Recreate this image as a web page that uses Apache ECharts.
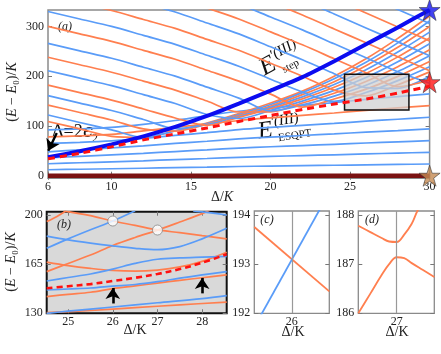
<!DOCTYPE html>
<html><head><meta charset="utf-8">
<script src="https://cdn.jsdelivr.net/npm/echarts@6/dist/echarts.min.js"></script>
<style>html,body{margin:0;padding:0;background:#fff}#c{width:441px;height:354px}</style>
</head><body><div id="c"></div>
<script>
const FONT = "'Liberation Serif','DejaVu Serif',serif";
const ORANGE = '#ff7f4f', BLUE = '#5a9cf8';

// ---------- panel (a) ----------
const deltaA = [6,8,10,12,14,16,18,20,22,24,26,28,30];
const stepLine  = [37,49,63,79,98,120,145,171,198,230,264,298,333];
const esqptLine = [34,45,58,72,84,96,109,121,133,144,154,166,180];
const low1 = [12,13,14,15,16.2,17.3,18.5,19.4,20.2,21,21.9,22.7,23.5];
const low2 = [24,26,28,30,32.4,34.6,37,38.8,40.4,42,43.8,45.4,47];
const low3 = [36,39,42,45,48.6,51.9,55.5,58.2,60.6,63,65.7,68.1,70.5];
const low4 = [48,52,56,60,64.8,69.2,74,77.6,80.8,84,87.6,90.8,94];
const low5 = [65,67,70,75,81,86.5,92.5,97,101,105,109.5,113.5,117.5];
const low6 = [78,80,83,90,97,104,111,116.4,121.2,126,131.4,136.2,141];
const low7 = [92,94,97,103,111,121,129.5,135.8,141.4,147,153.3,158.9,164.5];
const lev1  = [109,94,79,77,90,106,125,146,170,200,235,276,321];
const lev2  = [122,107,92,77,90,105,123,143,167,195,228,267,311];
const lev3  = [142,127,112,94,89.5,103.5,121,140,163,189,221,258,300];
const lev4  = [161,146,131,113,95,102.4,119,137.4,158.5,183.4,213,248.5,288.6];
const lev5  = [182,167,152,134,116,101.3,117.2,134.5,154.5,177.7,205.5,238.8,276.8];
const lev6  = [211,196,181,163,145,123,115,131.2,150,171.4,197.3,228.8,265];
const lev7  = [238,223,208,190,172,150,128,128.4,146,165.7,189.5,219,253];
const lev8  = [266,251,236,218,200,178,156,130,142.2,160,181.8,209.4,241.2];
const lev9  = [300,285,270,252,234,212,190,164,138,154.2,173.9,199.6,229.4];
const lev10 = [330,315,300,282,264,242,220,194,168,149.2,167.1,191.1,219];
const lev11 = [362,347,332,314,296,274,252,226,200,172,160.5,182.7,208.7];
const lev12 = [395,380,365,347,329,307,285,259,233,205,177,175.5,199.8];
const lev13 = [425,410,395,377,359,337,315,289,263,235,207,179,192.4];
const lev14 = [455,440,425,407,389,367,345,319,293,265,237,209,186];
const lev15 = [485,470,455,437,419,397,375,349,323,295,267,239,211];
const lev16 = [515,500,485,467,449,427,405,379,353,325,297,269,241];
const lev17 = [545,530,515,497,479,457,435,409,383,355,327,299,271];
const lev18 = [580,565,550,532,514,492,470,444,418,390,362,334,306];
const lev19 = [612,597,582,564,546,524,502,476,450,422,394,366,338];
const xTicksA = [6,10,15,20,25,30], yTicksA = [0,100,200,300];
const boxA = [[24.65,132],[28.7,204]];
const starStep = [30,333], starEsqpt = [30,188], starGround = [30,0];
const arrowA = [[6.55,86],[6.02,50]];

// ---------- panel (b) ----------
const bOrangeA = [[24.9,203],[25.5,199.5],[26,195.7],[26.5,192.6],[27,189.4],[27.5,187.4],[28,185.3],[28.55,183]];
const bOrangeB = [[24.52,159.7],[25,165.5],[25.5,171.5],[26,178.3],[26.5,184],[27,189.2],[27.5,195],[28,201],[28.2,204]];
const bOrangeE = [[24.52,195.3],[24.75,199],[24.96,203]];
const bOrangeC = [[24.52,166.5],[25,164],[25.5,162],[26,160.5],[26.5,160],[27,160.8],[27.5,163],[28,167],[28.55,173.5]];
const bOrangeF = [[24.52,141.9],[25,143.5],[25.5,145],[26,147.6],[26.5,149.5],[27,151.5],[27.5,153.5],[28,155.3],[28.55,157.3]];
const bOrangeG = [[24.52,130.5],[25.5,132],[26.5,134],[27.5,136],[28.55,138]];
const bBlue1 = [[24.52,176.3],[25,183],[25.5,189.5],[26,195.7],[26.5,203]];
const bBlue2 = [[24.52,185],[25,182.3],[25.5,180],[26,178],[26.5,176.3],[27,175.3],[27.5,177.5],[28,183],[28.55,190.5]];
const bBlue3 = [[24.52,153],[25,155.5],[25.5,158],[26,161.5],[26.5,165.5],[27,168.5],[27.5,169.5],[28,170],[28.55,170.5]];
const bBlue4 = [[27.8,203],[28.2,201.5],[28.55,200]];
const bBlue5 = [[24.52,146.6],[25,147.3],[25.5,148],[26,149.3],[26.5,150.5],[27,152.5],[27.5,155],[28,157.3],[28.55,159.7]];
const bBlue6 = [[24.52,130],[25,131.5],[26,134.5],[27,137.5],[28,140.5],[28.55,142.6]];
const bEsqpt = [[24.52,147.8],[25,149.3],[25.5,150.8],[26,153],[26.5,155.3],[27,158],[27.5,161.5],[28,166],[28.55,172]];
const bCircles = [[26,195.7],[27,189.3]];
const bArrows = [[[26,137],[26,148]],[[28,144.2],[28,155.2]]];
const xTicksB = [25,26,27,28], yTicksB = [130,165,200];

// ---------- panel (c) ----------
const cBlue = [[25.9,191.72],[26.1,194.46]];
const cOrange = [[25.9,193.755],[26.1,192.445]];
const xTicksC = [26], yTicksC = [192,193,194];

// ---------- panel (d) ----------
const dUpper = [[26.898,187.78],[26.93,187.65],[26.96,187.53],[26.98,187.46],[27.0,187.45],[27.02,187.6],[27.04,187.82],[27.055,188.08],[27.065,188.2]];
const dLower = [[26.898,186.0],[26.93,186.4],[26.96,186.78],[26.98,187.0],[27.0,187.14],[27.02,187.12],[27.04,187.02],[27.07,186.88],[27.1,186.74]];
const xTicksD = [27], yTicksD = [186,187,188];

const STAR = 'path://M50,2 L61.8,36.2 L97.6,36.2 L68.6,57.4 L79.4,91.6 L50,70.6 L20.6,91.6 L31.4,57.4 L2.4,36.2 L38.2,36.2 Z';

function zip(xs, ys){ return xs.map((x,i)=>[x, ys[i]]); }

function axisX(grid, min, max, ticks, pos, showLabel){
  return {type:'value', gridIndex:grid, min, max, position:pos,
    axisLine:{show:false}, splitLine:{show:false},
    axisTick:{inside:true, length:4, customValues:ticks, lineStyle:{color:'#777', width:1}},
    axisLabel:{show:showLabel, customValues:ticks, fontFamily:FONT, fontSize:12, color:'#222', margin:3}};
}
function axisY(grid, min, max, ticks, pos, showLabel){
  return {type:'value', gridIndex:grid, min, max, position:pos,
    axisLine:{show:false}, splitLine:{show:false},
    axisTick:{inside:true, length:4, customValues:ticks, lineStyle:{color:'#777', width:1}},
    axisLabel:{show:showLabel, customValues:ticks, fontFamily:FONT, fontSize:12, color:'#222', margin:4}};
}

const series = [];
function addA(ys, color, width, z, extra){
  series.push(Object.assign({type:'line', xAxisIndex:0, yAxisIndex:0, data:zip(deltaA, ys), smooth:0.3,
    symbol:'none', silent:true, z:z, lineStyle:{color, width}}, extra||{}));
}
[low1,low2,low3,low4,low5,low7].forEach(y=>addA(y, BLUE, 1.7, 2));
addA(low6, ORANGE, 1.7, 2);
[lev1,lev2,lev3,lev4,lev5,lev6,lev7,lev8,lev9,lev10,lev11,lev12,lev13,lev14,lev15,lev16,lev17,lev18,lev19]
  .forEach((y,i)=>addA(y, i%2===0 ? ORANGE : BLUE, 1.7, 2));
// gray zoom box drawn over the levels
series.push({type:'custom', xAxisIndex:0, yAxisIndex:0, data:[0], silent:true, z:3, clip:false,
  renderItem:(params, api)=>{
    const p0 = api.coord([boxA[0][0], boxA[1][1]]);
    const p1 = api.coord([boxA[1][0], boxA[0][1]]);
    return {type:'rect', shape:{x:p0[0], y:p0[1], width:p1[0]-p0[0], height:p1[1]-p0[1]},
      style:{fill:'rgba(208,208,208,0.72)', stroke:'#111', lineWidth:1.5}};
  }});
addA(stepLine, '#0c0cf0', 4, 4, {smooth:0.2});
addA(esqptLine, '#ff1010', 3, 5, {smooth:0.2, lineStyle:{color:'#ff1010', width:3, type:[7,5]}});
series.push({type:'line', xAxisIndex:0, yAxisIndex:0, data:[[6,0],[30,0]], symbol:'none', silent:true, z:5,
  lineStyle:{color:'#7a1212', width:4.5}});
series.push({type:'line', xAxisIndex:0, yAxisIndex:0, data:[arrowA[0]], symbol:'none', silent:true, z:6, lineStyle:{width:0},
  markLine:{silent:true, symbol:['none','arrow'], symbolSize:11, label:{show:false},
    lineStyle:{color:'#000', width:2.4, type:'solid'}, data:[[{coord:arrowA[0]},{coord:arrowA[1]}]]}});
[[starStep,'#1414ee'],[starEsqpt,'#ff1414'],[starGround,'#c48a52']].forEach(([p,c])=>{
  series.push({type:'scatter', xAxisIndex:0, yAxisIndex:0, data:[p], symbol:STAR, symbolSize:21, clip:false, silent:true, z:7,
    itemStyle:{color:c, borderColor:'#333', borderWidth:0.7}});
});

function addB(d, color, extra){
  series.push(Object.assign({type:'line', xAxisIndex:2, yAxisIndex:2, data:d, smooth:0.35, symbol:'none', silent:true, z:2,
    lineStyle:{color, width:1.7}}, extra||{}));
}
[bOrangeA,bOrangeB,bOrangeE,bOrangeC,bOrangeF,bOrangeG].forEach(d=>addB(d, ORANGE));
[bBlue1,bBlue2,bBlue3,bBlue4,bBlue5,bBlue6].forEach(d=>addB(d, BLUE));
addB(bEsqpt, '#ff1010', {z:4, lineStyle:{color:'#ff1010', width:2.6, type:[6,4]}});
series.push({type:'scatter', xAxisIndex:2, yAxisIndex:2, data:bCircles, symbol:'circle', symbolSize:10, silent:true, z:6,
  itemStyle:{color:'#fff', borderColor:'#888', borderWidth:1}});
series.push({type:'line', xAxisIndex:2, yAxisIndex:2, data:[bArrows[0][0]], symbol:'none', silent:true, z:6, lineStyle:{width:0},
  markLine:{silent:true, symbol:['none','arrow'], symbolSize:11, label:{show:false},
    lineStyle:{color:'#000', width:2.6, type:'solid'},
    data:bArrows.map(a=>[{coord:a[0]},{coord:a[1]}])}});

series.push({type:'line', xAxisIndex:4, yAxisIndex:4, data:cOrange, symbol:'none', silent:true, z:2, lineStyle:{color:ORANGE, width:1.8},
  markLine:{silent:true, symbol:'none', label:{show:false}, lineStyle:{color:'#999', width:1.2, type:'solid'}, data:[{xAxis:xTicksC[0]}]}});
series.push({type:'line', xAxisIndex:4, yAxisIndex:4, data:cBlue, symbol:'none', silent:true, z:3, lineStyle:{color:BLUE, width:1.8}});
series.push({type:'line', xAxisIndex:6, yAxisIndex:6, data:dUpper, smooth:0.4, symbol:'none', silent:true, z:2, lineStyle:{color:ORANGE, width:1.8},
  markLine:{silent:true, symbol:'none', label:{show:false}, lineStyle:{color:'#999', width:1.2, type:'solid'}, data:[{xAxis:xTicksD[0]}]}});
series.push({type:'line', xAxisIndex:6, yAxisIndex:6, data:dLower, smooth:0.4, symbol:'none', silent:true, z:2, lineStyle:{color:ORANGE, width:1.8}});

const T = (x,y,text,size,italic,extra)=>Object.assign({type:'text', x, y, silent:true,
  style:{text, fill:'#222', font:(italic?'italic ':'')+size+'px '+FONT, align:'center', verticalAlign:'middle'}}, extra||{});
const richLbl = {n:{fontFamily:FONT,fontSize:14,fill:'#222',color:'#222'}, i:{fontFamily:FONT,fontSize:14,fontStyle:'italic',fill:'#222',color:'#222'}};

const option = {
  animation:false,
  grid:[
    {left:48, top:10, width:381.6, height:168.2, show:true, borderColor:'#8a8a8a', borderWidth:1.5, backgroundColor:'transparent'},
    {left:46.7, top:211.7, width:180, height:101.6, show:true, borderColor:'#111', borderWidth:2, backgroundColor:'#d9d9d9'},
    {left:254.3, top:211, width:75, height:102.3, show:true, borderColor:'#8a8a8a', borderWidth:1.3},
    {left:358.3, top:211, width:76, height:102.3, show:true, borderColor:'#8a8a8a', borderWidth:1.3}
  ],
  xAxis:[
    axisX(0,6,30,xTicksA,'bottom',true), axisX(0,6,30,xTicksA,'top',false),
    axisX(1,24.52,28.55,xTicksB,'bottom',true), axisX(1,24.52,28.55,xTicksB,'top',false),
    axisX(2,25.9,26.1,xTicksC,'bottom',true), axisX(2,25.9,26.1,xTicksC,'top',false),
    axisX(3,26.898,27.1,xTicksD,'bottom',true), axisX(3,26.898,27.1,xTicksD,'top',false)
  ],
  yAxis:[
    axisY(0,-5,333,yTicksA,'left',true), axisY(0,-5,333,yTicksA,'right',false),
    axisY(1,130,202.35,yTicksB,'left',true), axisY(1,130,202.35,yTicksB,'right',false),
    axisY(2,192,194.08,yTicksC,'left',true), axisY(2,192,194.08,yTicksC,'right',false),
    axisY(3,186,188.08,yTicksD,'left',true), axisY(3,186,188.08,yTicksD,'right',false)
  ],
  series,
  graphic:[
    {type:'text', x:12, y:92, rotation:Math.PI/2, silent:true, style:{text:'{n|(}{i|E}{n| − }{i|E}{n|₀)/}{i|K}', rich:richLbl, align:'center', verticalAlign:'middle'}},
    {type:'text', x:11, y:262, rotation:Math.PI/2, silent:true, style:{text:'{n|(}{i|E}{n| − }{i|E}{n|₀)/}{i|K}', rich:richLbl, align:'center', verticalAlign:'middle'}},
    {type:'text', x:222, y:197, silent:true, style:{text:'{n|Δ/}{i|K}', rich:richLbl, align:'center', verticalAlign:'middle'}},
    T(135,330,'Δ/K',14,false), T(293,332,'Δ/K',14,false), T(397,332,'Δ/K',14,false),
    T(65,27,'(a)',12,true), T(64,225,'(b)',12,true), T(267,220,'(c)',12,true), T(372,220,'(d)',12,true),
    {type:'group', x:52, y:141, silent:true, children:[
      {type:'text', x:0, y:0, style:{text:'Δ=2', font:'18px '+FONT, fill:'#111', verticalAlign:'bottom'}},
      {type:'text', x:31, y:0, style:{text:'ϵ', font:"italic 18px 'DejaVu Serif'", fill:'#111', verticalAlign:'bottom'}},
      {type:'text', x:40, y:4, style:{text:'2', font:'12px '+FONT, fill:'#111', verticalAlign:'bottom'}}
    ]},
    {type:'group', x:267, y:81, rotation:0.5, silent:true, children:[
      {type:'text', x:0, y:0, style:{text:'E', font:'italic 25px '+FONT, fill:'#111', verticalAlign:'bottom'}},
      {type:'text', x:15, y:-12, style:{text:'′(III)', font:'italic 15px '+FONT, fill:'#111', verticalAlign:'bottom'}},
      {type:'text', x:19, y:4, style:{text:'step', font:'11px '+FONT, fill:'#111', verticalAlign:'bottom'}}
    ]},
    {type:'group', x:260, y:144, rotation:0.16, silent:true, children:[
      {type:'text', x:0, y:0, style:{text:'E', font:'italic 24px '+FONT, fill:'#111', verticalAlign:'bottom'}},
      {type:'text', x:14, y:-12, style:{text:'′(III)', font:'italic 15px '+FONT, fill:'#111', verticalAlign:'bottom'}},
      {type:'text', x:19, y:3, style:{text:'ESQPT', font:'11px '+FONT, fill:'#111', verticalAlign:'bottom'}}
    ]}
  ]
};
const chart = echarts.init(document.getElementById('c'), null, {renderer:'canvas'});
chart.setOption(option);
</script></body></html>
